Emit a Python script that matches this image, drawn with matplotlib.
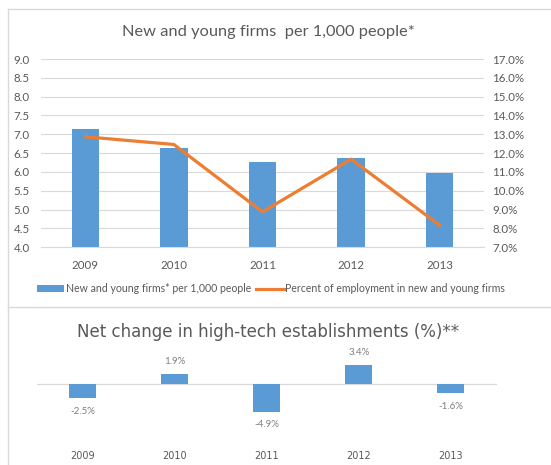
import numpy as np
import matplotlib
matplotlib.use("Agg")
import matplotlib.pyplot as plt
from matplotlib.lines import Line2D
from matplotlib.patches import Patch

# ---- data ----
years = ["2009", "2010", "2011", "2012", "2013"]
firms_per_1000 = [7.13, 6.65, 6.27, 6.36, 5.98]
pct_employment = [12.87, 12.46, 8.88, 11.68, 8.17]
hightech_change = [-2.5, 1.9, -4.9, 3.4, -1.6]

top_title = "New and young firms  per 1,000 people*"
bottom_title = "Net change in high-tech establishments (%)**"
bar_label = "New and young firms* per 1,000 people"
line_label = "Percent of employment in new and young firms"

BLUE = "#5B9BD5"
ORANGE = "#ED7D31"
GRID = "#d9d9d9"
TXT = "#595959"

plt.rcParams["font.family"] = ["Lato", "DejaVu Sans"]

W, H = 551, 465
fig = plt.figure(figsize=(W / 100, H / 100), dpi=100)


def fx(px):
    return px / W


def fy(py):
    return 1 - py / H


# ---- top chart ----
ax = fig.add_axes([fx(41), fy(247.3), (484 - 41) / W, (247.3 - 59) / H])
x = np.arange(len(years))
ax.bar(x, firms_per_1000, width=0.31, color=BLUE, zorder=2)
ax.set_xlim(-0.5, 4.5)
ax.set_ylim(4, 9)
yt = np.arange(4, 9.01, 0.5)
ax.set_yticks(yt)
ax.set_yticklabels([f"{v:.1f}" for v in yt])
ax.set_xticks(x)
ax.set_xticklabels(years)
ax.grid(axis="y", color=GRID, lw=0.8)
ax.set_axisbelow(True)
for s in ["top", "left", "right"]:
    ax.spines[s].set_visible(False)
ax.spines["bottom"].set_color(GRID)
ax.tick_params(axis="y", length=0, colors=TXT, labelsize=8.3, pad=8)
ax.tick_params(axis="x", length=0, colors=TXT, labelsize=8.3, pad=9)

ax2 = ax.twinx()
ax2.plot(x, pct_employment, color=ORANGE, lw=2.3, zorder=3)
ax2.set_ylim(7, 17)
rt = np.arange(7, 17.01, 1)
ax2.set_yticks(rt)
ax2.set_yticklabels([f"{v:.1f}%" for v in rt])
for s in ax2.spines.values():
    s.set_visible(False)
ax2.tick_params(axis="y", length=0, colors=TXT, labelsize=8.3, pad=6)

fig.text(fx(268), fy(32), top_title, ha="center", va="center", fontsize=11.8, color=TXT)

handles = [Patch(facecolor=BLUE, edgecolor="none"), Line2D([], [], color=ORANGE, lw=2.3)]
fig.legend(handles, [bar_label, line_label], ncol=2, loc="center",
           bbox_to_anchor=(fx(271), fy(289)), frameon=False, fontsize=7.6,
           labelcolor=TXT, handlelength=2.6, handletextpad=0.15, columnspacing=0.5,
           handleheight=0.6)

# ---- bottom chart ----
ax3 = fig.add_axes([fx(36.7), fy(440), (496.7 - 36.7) / W, (440 - 345) / H])
ax3.bar(x, hightech_change, width=0.29, color=BLUE, zorder=2)
ax3.axhline(0, color=GRID, lw=0.9, zorder=1)
ax3.set_xlim(-0.5, 4.5)
ax3.set_ylim(-9.95, 7.02)
ax3.set_yticks([])
ax3.set_xticks(x)
ax3.set_xticklabels(years, family="DejaVu Sans", fontsize=7)
for s in ax3.spines.values():
    s.set_visible(False)
ax3.tick_params(axis="x", length=0, colors=TXT, pad=8)
for i, v in enumerate(hightech_change):
    off = 9 if v > 0 else -9.5
    ax3.annotate(f"{v:.1f}%", (i, v), xytext=(0, off), textcoords="offset points",
                 ha="center", va="center", fontsize=7, color="#7f7f7f")

fig.text(fx(268), fy(332), bottom_title, ha="center", va="center",
         fontsize=12, color=TXT, family="DejaVu Sans")

# ---- borders ----
for xs, ys in [([8, 8], [9, 465]), ([8, 551], [9, 9]), ([8, 551], [307, 307])]:
    fig.add_artist(Line2D([fx(v) for v in xs], [fy(v) for v in ys], color=GRID,
                          lw=1, transform=fig.transFigure))

fig.savefig("out.png", dpi=100)
